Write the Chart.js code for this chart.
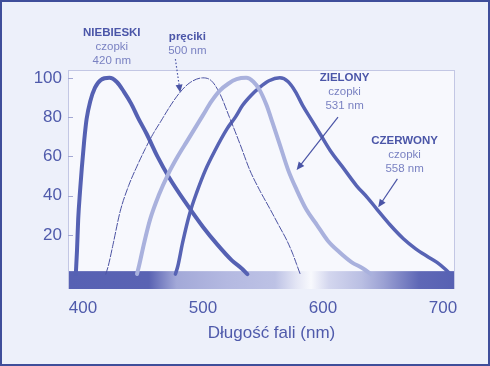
<!DOCTYPE html>
<html>
<head>
<meta charset="utf-8">
<script src="https://cdn.jsdelivr.net/npm/chart.js@4/dist/chart.umd.min.js"></script>
<style>
  html, body { margin: 0; padding: 0; background: #edf0fa; }
  #chart { display: block; }
</style>
</head>
<body>
<canvas id="chart" width="490" height="366"></canvas>
<script>
// wavelength (nm) / relative sensitivity (%)
const xTicks = [400, 500, 600, 700];
const yTicks = [20, 40, 60, 80, 100];
const xTitle = 'Długość fali (nm)';

const blueNm  = [394, 395, 396, 397.5, 399, 401, 403, 406, 410, 415, 422, 428, 434, 440, 446, 453, 462, 472, 486, 500, 512, 524, 532, 537];
const blueVal = [0, 12, 28, 42, 54, 68, 79, 88, 95, 99, 100, 98, 93, 87, 79.5, 71.5, 60, 49, 36, 24, 15, 7, 3, 0];

const rodNm  = [419, 421, 425, 431, 438, 445, 452, 458, 465, 472, 480, 489, 500, 507, 514, 522, 531, 539, 547, 556, 563, 570, 575, 578, 581];
const rodVal = [0, 4, 15, 32, 45, 55, 64, 71, 78, 85, 92, 97.5, 100, 98.5, 92, 80, 66, 53, 43, 33, 25, 17, 10, 5, 0];

const greenNm  = [445, 447, 451, 456, 463, 471, 479, 487, 494, 500, 507, 514, 521, 528, 536, 542, 547, 553, 558, 564, 571, 578, 586, 595, 604, 614, 624, 633, 640];
const greenVal = [0, 5, 16, 28, 40, 51, 60, 68, 75, 81, 88, 93.5, 97, 99.3, 100, 98, 94, 86, 77, 66, 53, 43, 33, 25, 17, 11, 6, 3, 0];

const redNm  = [477, 479, 483, 489, 495, 502, 510, 520, 527, 533, 540, 547, 555, 564, 571, 577, 583, 590, 598, 606, 617, 628, 637, 645, 656, 667, 677, 687, 695, 701, 706];
const redVal = [0, 4, 16, 31, 42, 53, 63, 74, 80, 86, 91, 95, 98.5, 100, 98, 93, 86, 79, 71, 63, 54, 45, 39, 33, 25, 18, 13, 9, 6, 3, 0];

// spectrum strip under the curves
const spectrumStops = [
  [387.5, '#5761b3'], [455, '#5a63b3'], [478, '#a3a9d8'], [520, '#b4b9e1'],
  [560, '#bdc2e5'], [578, '#e4e6f5'], [590, '#f8f9fd'], [605, '#d3d6ee'],
  [632, '#babfe3'], [650, '#9ca2d4'], [680, '#5f68b6'], [710, '#5761b3']
];

// annotations: [text, nm, value, bold]
const labels = [
  ['NIEBIESKI', 424, 123, true], ['czopki', 424, 115.7, false], ['420 nm', 424, 108.5, false],
  ['pręciki', 487, 121, true], ['500 nm', 487, 113.6, false],
  ['ZIELONY', 618, 100, true], ['czopki', 618, 92.7, false], ['531 nm', 618, 85.6, false],
  ['CZERWONY', 668, 67.8, true], ['czopki', 668, 60.6, false], ['558 nm', 668, 53.5, false]
];
// arrows: [fromNm, fromVal, toNm, toVal, dotted]
const arrows = [
  [477, 109.5, 481, 92.5, true],
  [612.5, 80, 578, 53, false],
  [662, 48.5, 646, 34, false]
];

const pts = (xs, ys) => xs.map((x, i) => ({ x: x, y: ys[i] }));

const decor = {
  id: 'decor',
  beforeDraw(chart) {
    const { ctx, chartArea: a } = chart;
    ctx.save();
    ctx.fillStyle = '#edf0fa';
    ctx.fillRect(0, 0, chart.width, chart.height);
    ctx.strokeStyle = '#3f4e9a';
    ctx.lineWidth = 2;
    ctx.strokeRect(1, 1, chart.width - 2, chart.height - 2);
    ctx.fillStyle = '#f7f8fd';
    ctx.fillRect(a.left, a.top, a.right - a.left, a.bottom - a.top);
    ctx.strokeStyle = '#c3c7e4';
    ctx.lineWidth = 1;
    ctx.strokeRect(a.left + 0.5, a.top + 0.5, a.right - a.left - 1, a.bottom - a.top - 1);
    ctx.restore();
  },
  beforeDatasetsDraw(chart) {
    const { ctx, chartArea: a, scales: { x, y } } = chart;
    ctx.save();
    const g = ctx.createLinearGradient(a.left, 0, a.right, 0);
    spectrumStops.forEach(([nm, c]) => {
      const t = (x.getPixelForValue(nm) - a.left) / (a.right - a.left);
      g.addColorStop(Math.min(1, Math.max(0, t)), c);
    });
    ctx.fillStyle = g;
    const top = y.getPixelForValue(1.5);
    ctx.fillRect(a.left + 1, top, a.right - a.left - 2, a.bottom - top);
    // small tick marks inside the plot
    ctx.strokeStyle = '#a3a8d4';
    ctx.lineWidth = 1;
    yTicks.forEach(v => {
      const py = Math.round(y.getPixelForValue(v)) + 0.5;
      ctx.beginPath();
      ctx.moveTo(a.left, py);
      ctx.lineTo(a.left + 5, py);
      ctx.stroke();
    });
    ctx.restore();
  },
  afterDatasetsDraw(chart) {
    const { ctx, chartArea: a, scales: { x, y } } = chart;
    ctx.save();
    ctx.textAlign = 'center';
    ctx.textBaseline = 'middle';
    labels.forEach(([t, nm, v, bold]) => {
      ctx.font = bold ? 'bold 11.5px "Liberation Sans"' : '11.5px "Liberation Sans"';
      ctx.fillStyle = bold ? '#4b56a8' : '#7a82c2';
      ctx.fillText(t, x.getPixelForValue(nm), y.getPixelForValue(v));
    });
    arrows.forEach(([n1, v1, n2, v2, dotted]) => {
      const x1 = x.getPixelForValue(n1), y1 = y.getPixelForValue(v1);
      const x2 = x.getPixelForValue(n2), y2 = y.getPixelForValue(v2);
      const ang = Math.atan2(y2 - y1, x2 - x1);
      ctx.strokeStyle = '#4a54a6';
      ctx.fillStyle = '#4a54a6';
      ctx.lineWidth = 1.2;
      ctx.setLineDash(dotted ? [1.5, 2] : []);
      ctx.beginPath();
      ctx.moveTo(x1, y1);
      ctx.lineTo(x2 - 5 * Math.cos(ang), y2 - 5 * Math.sin(ang));
      ctx.stroke();
      ctx.setLineDash([]);
      ctx.beginPath();
      ctx.moveTo(x2, y2);
      ctx.lineTo(x2 - 8 * Math.cos(ang) + 3.5 * Math.sin(ang), y2 - 8 * Math.sin(ang) - 3.5 * Math.cos(ang));
      ctx.lineTo(x2 - 8 * Math.cos(ang) - 3.5 * Math.sin(ang), y2 - 8 * Math.sin(ang) + 3.5 * Math.cos(ang));
      ctx.closePath();
      ctx.fill();
    });
    // axis title
    ctx.font = '17px "Liberation Sans"';
    ctx.fillStyle = '#4f5aab';
    ctx.fillText(xTitle, (a.left + a.right) / 2 + 10, 333);
    ctx.restore();
  }
};

const line = (data, color, width, dash) => ({
  data: data,
  borderColor: color,
  borderWidth: width,
  borderDash: dash || [],
  pointRadius: 0,
  fill: false,
  cubicInterpolationMode: 'monotone',
  borderCapStyle: 'round',
  borderJoinStyle: 'round'
});

new Chart(document.getElementById('chart'), {
  type: 'line',
  data: {
    datasets: [
      line(pts(greenNm, greenVal), '#a9b1dd', 4),
      line(pts(rodNm, rodVal), '#4b52a2', 1, [7, 2]),
      line(pts(blueNm, blueVal), '#5561b3', 4),
      line(pts(redNm, redVal), '#5763b4', 3.5)
    ]
  },
  options: {
    responsive: false,
    animation: false,
    devicePixelRatio: 1,
    layout: { padding: { left: 0, top: 70, right: 35, bottom: 0 } },
    plugins: { legend: { display: false }, tooltip: { enabled: false } },
    scales: {
      x: {
        type: 'linear',
        min: 387.5,
        max: 710,
        afterBuildTicks: s => { s.ticks = xTicks.map(v => ({ value: v })); },
        afterFit: s => { s.height = 77; },
        grid: { display: false, drawTicks: false },
        border: { display: false },
        ticks: {
          padding: 9,
          color: '#4f5aab',
          font: { family: 'Liberation Sans', size: 17 },
          maxRotation: 0
        }
      },
      y: {
        min: -7.6,
        max: 104,
        afterBuildTicks: s => { s.ticks = yTicks.map(v => ({ value: v })); },
        afterFit: s => { s.width = 68; },
        grid: { display: false, drawTicks: false },
        border: { display: false },
        ticks: {
          padding: 6,
          color: '#4f5aab',
          font: { family: 'Liberation Sans', size: 17 }
        }
      }
    }
  },
  plugins: [decor]
});
</script>
</body>
</html>
